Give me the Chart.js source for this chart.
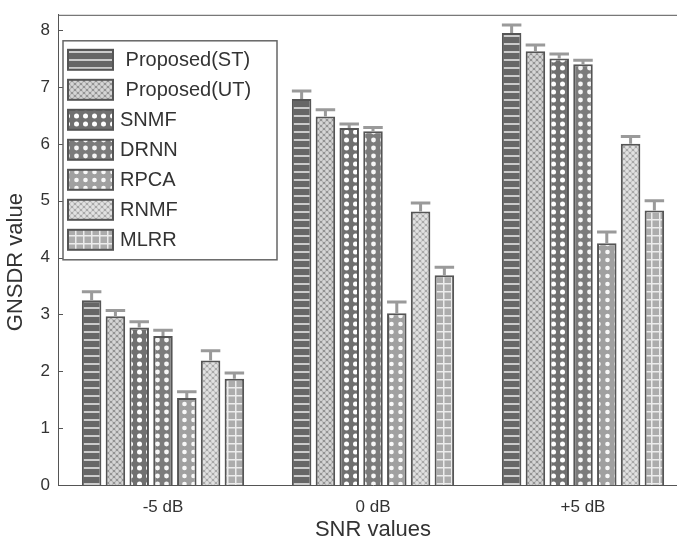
<!DOCTYPE html>
<html>
<head>
  <meta charset="UTF-8">
  <title>GNSDR vs SNR</title>
  <script src="https://cdn.jsdelivr.net/npm/chart.js"></script>
  <style>
    html, body { margin: 0; padding: 0; background: #fff; overflow: hidden; }
    #wrap { position: relative; width: 700px; height: 545px; }
  </style>
</head>
<body>

<div id="wrap"><canvas id="chart"></canvas></div>

<script>
  // categories and values
  const snrLabels = ['-5 dB', '0 dB', '+5 dB'];
  const methods = [' Proposed(ST)', ' Proposed(UT)', 'SNMF', 'DRNN', 'RPCA', 'RNMF', 'MLRR'];

  const proposedST = [3.25, 6.79, 7.95];
  const proposedUT = [2.97, 6.48, 7.63];
  const snmf = [2.77, 6.28, 7.50];
  const drnn = [2.62, 6.22, 7.40];
  const rpca = [1.53, 3.02, 4.25];
  const rnmf = [2.19, 4.81, 6.00];
  const mlrr = [1.87, 3.69, 4.83];

  // upper error (cap above bar top)
  const errST = [0.15, 0.14, 0.14];
  const errUT = [0.10, 0.12, 0.11];
  const errSNMF = [0.10, 0.07, 0.08];
  const errDRNN = [0.10, 0.07, 0.07];
  const errRPCA = [0.11, 0.20, 0.20];
  const errRNMF = [0.17, 0.15, 0.13];
  const errMLRR = [0.10, 0.14, 0.17];

  const seriesValues = [proposedST, proposedUT, snmf, drnn, rpca, rnmf, mlrr];
  const seriesErrors = [errST, errUT, errSNMF, errDRNN, errRPCA, errRNMF, errMLRR];

  const FONT = "'Liberation Sans', Arial, sans-serif";

  function tile(w, h, draw) {
    const c = document.createElement('canvas');
    c.width = w; c.height = h;
    const g = c.getContext('2d');
    draw(g, w, h);
    return g.createPattern(c, 'repeat');
  }

  function stripes(base, line) {
    return tile(8, 8, (g, w, h) => {
      g.fillStyle = base; g.fillRect(0, 0, w, h);
      g.fillStyle = line; g.fillRect(0, 3, w, 2);
    });
  }

  function dots(base, dot, r) {
    return tile(9, 8, (g, w, h) => {
      g.fillStyle = base; g.fillRect(0, 0, w, h);
      g.fillStyle = dot;
      g.beginPath(); g.arc(4.5, 4, r, 0, Math.PI * 2); g.fill();
    });
  }

  function checker(base, light) {
    return tile(6, 6, (g, w, h) => {
      g.fillStyle = base; g.fillRect(0, 0, w, h);
      g.fillStyle = light;
      [[3, 3], [0, 0], [6, 0], [0, 6], [6, 6]].forEach(p => {
        g.beginPath(); g.arc(p[0], p[1], 1.9, 0, Math.PI * 2); g.fill();
      });
    });
  }

  function plaid(base, line) {
    return tile(8, 8, (g, w, h) => {
      g.fillStyle = base; g.fillRect(0, 0, w, h);
      g.fillStyle = line;
      g.fillRect(0, 3, w, 1.5);
      g.fillRect(3, 0, 1.5, h);
    });
  }

  const fills = [
    stripes('#666666', '#cbcbcb'),
    checker('#939393', '#d6d6d6'),
    dots('#707070', '#ffffff', 2.5),
    dots('#7b7b7b', '#f6f6f6', 2.4),
    dots('#a0a0a0', '#f8f8f8', 2.3),
    checker('#a8a8a8', '#e2e2e2'),
    plaid('#acacac', '#ececec')
  ];

  const datasets = methods.map((m, i) => ({
    label: m,
    data: seriesValues[i],
    errors: seriesErrors[i],
    backgroundColor: fills[i],
    borderColor: '#555',
    borderWidth: 2,
    categoryPercentage: 0.793,
    barPercentage: 0.82
  }));

  // error bars (upper half) drawn from the y scale
  const errorBars = {
    id: 'errorBars',
    afterDatasetsDraw(chart) {
      const ctx = chart.ctx;
      const y = chart.scales.y;
      ctx.save();
      ctx.strokeStyle = '#9a9a9a';
      ctx.lineWidth = 3;
      chart.data.datasets.forEach((ds, i) => {
        chart.getDatasetMeta(i).data.forEach((bar, j) => {
          const top = y.getPixelForValue(ds.data[j] + ds.errors[j]);
          const half = bar.width / 2;
          ctx.beginPath();
          ctx.moveTo(bar.x, bar.y);
          ctx.lineTo(bar.x, top);
          ctx.moveTo(bar.x - half, top);
          ctx.lineTo(bar.x + half, top);
          ctx.stroke();
        });
      });
      ctx.restore();
    }
  };

  // MATLAB style frame: top line and inner ticks on the y axis
  const frame = {
    id: 'frame',
    afterDraw(chart) {
      const ctx = chart.ctx;
      const a = chart.chartArea;
      const y = chart.scales.y;
      ctx.save();
      ctx.strokeStyle = '#555';
      ctx.lineWidth = 1;
      ctx.beginPath();
      ctx.moveTo(a.left, a.top + 0.5);
      ctx.lineTo(a.right, a.top + 0.5);
      y.ticks.forEach(t => {
        const py = Math.round(y.getPixelForValue(t.value)) + 0.5;
        ctx.moveTo(a.left, py);
        ctx.lineTo(a.left + 5, py);
      });
      ctx.stroke();
      ctx.restore();
    }
  };

  // legend box inside the axes, top-left
  const boxLegend = {
    id: 'boxLegend',
    afterDraw(chart) {
      const ctx = chart.ctx;
      const a = chart.chartArea;
      const x0 = a.left + 5, y0 = a.top + 26;
      const w = 214, rowH = 30;
      const h = rowH * chart.data.datasets.length + 9;
      ctx.save();
      ctx.fillStyle = '#fff';
      ctx.fillRect(x0, y0, w, h);
      ctx.strokeStyle = '#666';
      ctx.lineWidth = 1.5;
      ctx.strokeRect(x0, y0, w, h);
      ctx.font = '20px ' + FONT;
      ctx.textBaseline = 'middle';
      chart.data.datasets.forEach((ds, i) => {
        const cy = y0 + 19 + i * rowH;
        ctx.fillStyle = ds.backgroundColor;
        ctx.fillRect(x0 + 5, cy - 10, 45, 20);
        ctx.strokeStyle = '#555';
        ctx.lineWidth = 2;
        ctx.strokeRect(x0 + 5, cy - 10, 45, 20);
        ctx.fillStyle = '#333';
        ctx.fillText(ds.label, x0 + 57, cy + 1);
      });
      ctx.restore();
    }
  };

  new Chart(document.getElementById('chart'), {
    type: 'bar',
    data: { labels: snrLabels, datasets: datasets },
    plugins: [errorBars, frame, boxLegend],
    options: {
      responsive: true,
      maintainAspectRatio: false,
      animation: false,
      layout: { padding: { top: 7, right: 12, left: 0, bottom: 0 } },
      plugins: {
        legend: { display: false },
        tooltip: { enabled: false }
      },
      scales: {
        x: {
          afterFit: s => { s.height = 60; },
          grid: { display: false, drawTicks: false },
          border: { display: true, color: '#555', width: 1 },
          ticks: { color: '#333', padding: 12, font: { family: FONT, size: 17 } },
          title: {
            display: true, text: 'SNR values', color: '#333',
            font: { family: FONT, size: 22 }, padding: { top: 0, bottom: 2 }
          }
        },
        y: {
          min: 0,
          max: 8.27,
          afterFit: s => { s.width = 58; },
          grid: { display: false, drawTicks: false },
          border: { display: true, color: '#555', width: 1 },
          ticks: {
            stepSize: 1, includeBounds: false, color: '#333', padding: 8,
            font: { family: FONT, size: 17, lineHeight: 0.8 }
          },
          title: {
            display: true, text: 'GNSDR value    ', color: '#333',
            font: { family: FONT, size: 22 }, padding: { top: 3, bottom: 0 }
          }
        }
      }
    }
  });
</script>

</body>
</html>
